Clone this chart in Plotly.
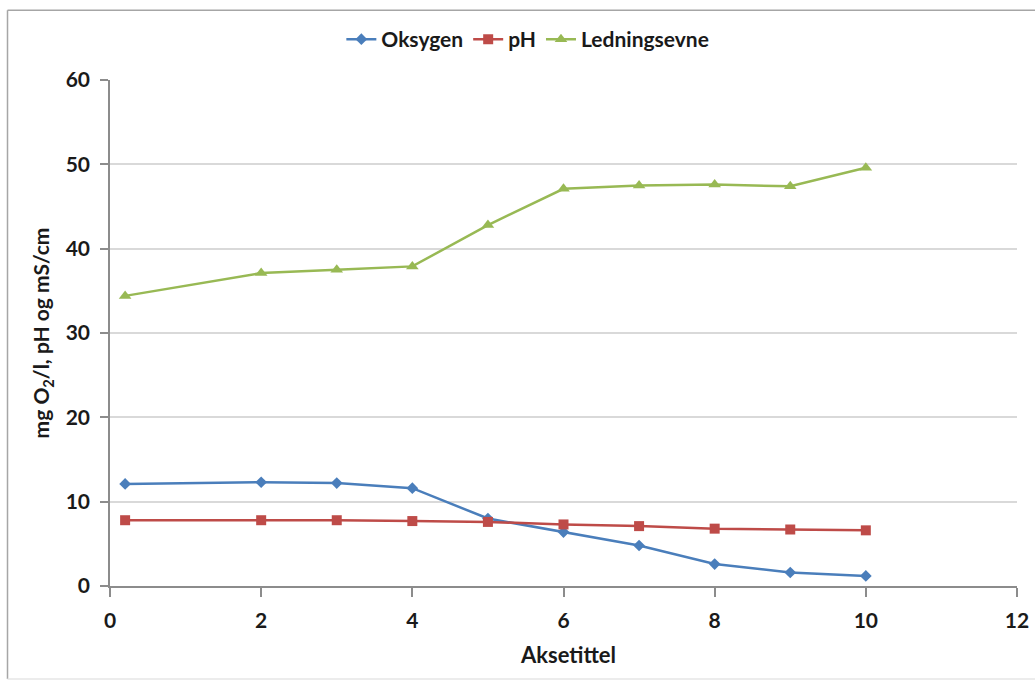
import plotly.graph_objects as go

# Sample positions along the x axis
x_vals = [0.2, 2, 3, 4, 5, 6, 7, 8, 9, 10]

# Measured series
oksygen = [12.1, 12.3, 12.2, 11.6, 8.0, 6.4, 4.8, 2.6, 1.6, 1.2]
ph = [7.8, 7.8, 7.8, 7.7, 7.6, 7.3, 7.1, 6.8, 6.7, 6.6]
ledningsevne = [34.4, 37.1, 37.5, 37.9, 42.8, 47.1, 47.5, 47.6, 47.4, 49.6]

series_names = ["Oksygen", "pH", "Ledningsevne"]
x_ticks = [0, 2, 4, 6, 8, 10, 12]
y_ticks = [0, 10, 20, 30, 40, 50, 60]
x_title = "Aksetittel"
y_title = "mg O<sub>2</sub>/l, pH og mS/cm"

FONT = "Lato"
AXIS_GREY = "#8c8c8c"
TEXT = "#1a1a1a"

fig = go.Figure()
fig.add_trace(go.Scatter(
    x=x_vals, y=oksygen, name=series_names[0], mode="lines+markers",
    line=dict(color="#4a7ebb", width=2.5),
    marker=dict(symbol="diamond", size=9, color="#4a7ebb"),
))
fig.add_trace(go.Scatter(
    x=x_vals, y=ph, name=series_names[1], mode="lines+markers",
    line=dict(color="#be4b48", width=2.5),
    marker=dict(symbol="square", size=10, color="#be4b48"),
))
fig.add_trace(go.Scatter(
    x=x_vals, y=ledningsevne, name=series_names[2], mode="lines+markers",
    line=dict(color="#98b954", width=2.5),
    marker=dict(symbol="triangle-up", size=11, color="#98b954"),
))

# Outer chart frame (left, top and bottom edges)
frame = dict(color="#a6a6a6", width=1.5)
fig.add_shape(type="line", xref="paper", yref="paper",
              x0=-0.113, x1=-0.113, y0=-0.184, y1=1.138, line=frame)
fig.add_shape(type="line", xref="paper", yref="paper",
              x0=-0.113, x1=1.05, y0=1.138, y1=1.138, line=frame)
fig.add_shape(type="line", xref="paper", yref="paper",
              x0=-0.113, x1=1.05, y0=-0.184, y1=-0.184,
              line=dict(color="#e6e6e6", width=1.5))

# X-axis title placed below the tick labels
fig.add_annotation(
    text=x_title, xref="paper", yref="paper", x=0.505, y=-0.136,
    xanchor="center", yanchor="middle", showarrow=False,
    font=dict(family=FONT, size=22, weight="bold", color=TEXT),
)

fig.update_layout(
    width=1035, height=681,
    margin=dict(l=110, r=18, t=80, b=95, autoexpand=False),
    paper_bgcolor="white", plot_bgcolor="white",
    font=dict(family=FONT, size=21, color=TEXT),
    showlegend=True,
    legend=dict(
        orientation="h", xref="container", yref="container",
        x=0.51, xanchor="center", y=0.942, yanchor="middle",
        font=dict(family=FONT, size=21, color=TEXT, weight="bold"),
        itemwidth=30, tracegroupgap=0,
    ),
)

fig.update_xaxes(
    range=[0, 12], tickvals=x_ticks, ticktext=[str(v) for v in x_ticks],
    showgrid=False, zeroline=False,
    showline=True, linecolor=AXIS_GREY, linewidth=1.5,
    ticks="outside", ticklen=9, tickcolor=AXIS_GREY, tickwidth=1.5,
    ticklabelstandoff=6,
    tickfont=dict(family=FONT, size=21, weight="bold", color=TEXT),
)
fig.update_yaxes(
    range=[0, 60], tickvals=y_ticks, ticktext=[str(v) for v in y_ticks],
    showgrid=True, gridcolor="#d9d9d9", gridwidth=1.5, zeroline=False,
    showline=True, linecolor=AXIS_GREY, linewidth=1.5,
    ticks="outside", ticklen=8, tickcolor=AXIS_GREY, tickwidth=1.5,
    ticklabelstandoff=6,
    tickfont=dict(family=FONT, size=21, weight="bold", color=TEXT),
    title=dict(text=y_title, standoff=10,
               font=dict(family=FONT, size=21, weight="bold", color=TEXT)),
)

fig.write_html("out.html")
